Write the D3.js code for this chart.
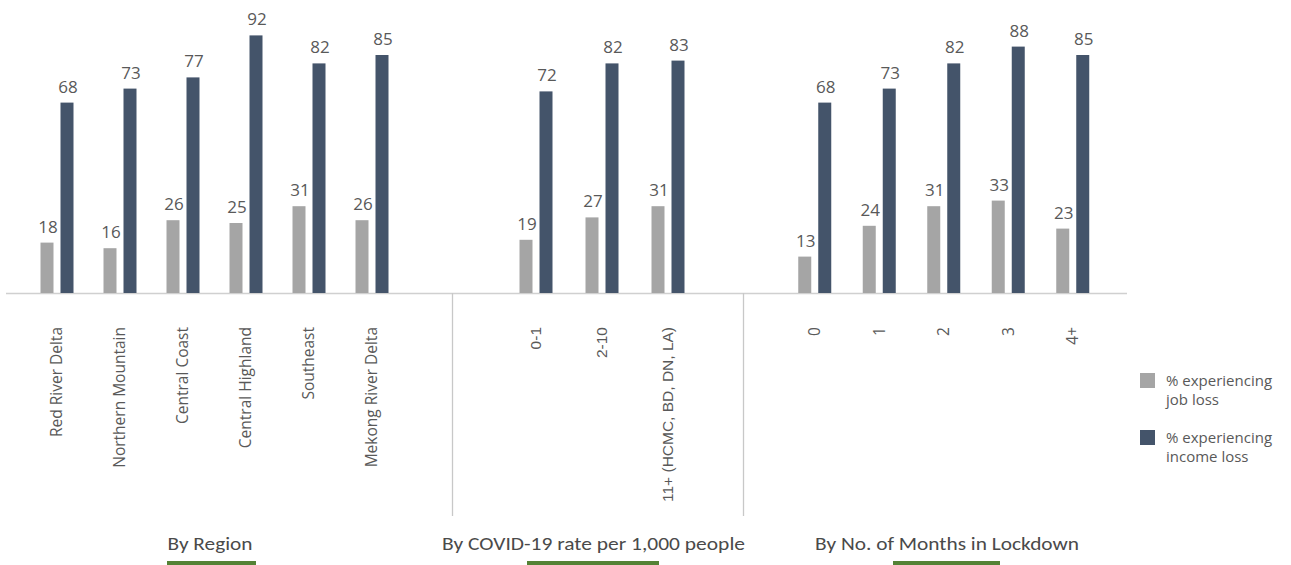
<!DOCTYPE html>
<html>
<head>
<meta charset="utf-8">
<script src="https://cdn.jsdelivr.net/npm/d3@7"></script>
<style>
  html, body { margin: 0; padding: 0; background: #ffffff; }
  svg { display: block; }
</style>
</head>
<body>
<svg id="chart" width="1291" height="565"></svg>
<script>
// ---------------- data ----------------
const groupTitles = ["By Region", "By COVID-19 rate per 1,000 people", "By No. of Months in Lockdown"];

const regionCategories = ["Red River Delta", "Northern Mountain", "Central Coast", "Central Highland", "Southeast", "Mekong River Delta"];
const regionJobLoss    = [18, 16, 26, 25, 31, 26];
const regionIncomeLoss = [68, 73, 77, 92, 82, 85];

const covidCategories  = ["0-1", "2-10", "11+ (HCMC, BD, DN, LA)"];
const covidJobLoss     = [19, 27, 31];
const covidIncomeLoss  = [72, 82, 83];

const monthCategories  = ["0", "1", "2", "3", "4+"];
const monthJobLoss     = [13, 24, 31, 33, 23];
const monthIncomeLoss  = [68, 73, 82, 88, 85];

const seriesKeys   = ["job", "income"];
const seriesLabels = [["% experiencing", "job loss"], ["% experiencing", "income loss"]];

// ---------------- layout / style ----------------
const colors = { job: "#a5a5a5", income: "#44546a" };
const textColor = "#595959";
const baseY = 293;

const groups = [
  { title: groupTitles[0], cats: regionCategories, job: regionJobLoss, income: regionIncomeLoss,
    range: [25.5, 403.5], font: "'Open Sans', sans-serif", titleX: 210, titleW: 85, ulX: [167, 256] },
  { title: groupTitles[1], cats: covidCategories, job: covidJobLoss, income: covidIncomeLoss,
    range: [503, 701], font: "'Liberation Sans', Arial, sans-serif", titleX: 593.5, titleW: 303, ulX: [527, 659] },
  { title: groupTitles[2], cats: monthCategories, job: monthJobLoss, income: monthIncomeLoss,
    range: [782.5, 1105], font: "'Open Sans', sans-serif", titleX: 947, titleW: 264, ulX: [893, 1000] }
];

const svg = d3.select("#chart");

const y = d3.scaleLinear().domain([0, 100]).range([baseY, 13]);
const xInner = d3.scaleBand().domain(seriesKeys).range([-16.5, 16.5]).paddingInner(0.35);

// baseline
svg.append("line")
  .attr("x1", 6).attr("x2", 1127)
  .attr("y1", y(0) + 0.5).attr("y2", y(0) + 0.5)
  .attr("stroke", "#d0d0d0").attr("stroke-width", 1.3);

// separators
[452, 743].forEach(sx => {
  svg.append("line")
    .attr("x1", sx + 0.5).attr("x2", sx + 0.5)
    .attr("y1", y(0)).attr("y2", 516)
    .attr("stroke", "#c8c8c8").attr("stroke-width", 1.3);
});

groups.forEach(g => {
  const x = d3.scaleBand().domain(g.cats).range(g.range);
  const rows = g.cats.map((c, i) => ({ cat: c, job: g.job[i], income: g.income[i] }));

  const cg = svg.append("g").selectAll("g").data(rows).join("g")
    .attr("transform", d => `translate(${x(d.cat) + x.bandwidth() / 2},0)`);

  cg.selectAll("rect").data(d => seriesKeys.map(k => ({ key: k, value: d[k] }))).join("rect")
    .attr("x", d => xInner(d.key))
    .attr("width", xInner.bandwidth())
    .attr("y", d => y(d.value))
    .attr("height", d => y(0) - y(d.value))
    .attr("fill", d => colors[d.key]);

  cg.selectAll("text.val").data(d => seriesKeys.map(k => ({ key: k, value: d[k] }))).join("text")
    .attr("class", "val")
    .attr("x", d => xInner(d.key) + xInner.bandwidth() / 2 + 1)
    .attr("y", d => y(d.value) - 10)
    .attr("text-anchor", "middle")
    .style("font-family", "'Open Sans', sans-serif")
    .style("font-size", "17px")
    .attr("fill", textColor)
    .text(d => d.value);

  // category axis
  const axis = d3.axisBottom(x).tickSize(0).tickPadding(0);
  const ag = svg.append("g").attr("transform", `translate(0,${baseY})`).call(axis);
  ag.select(".domain").remove();
  ag.selectAll("text")
    .attr("transform", "rotate(-90)")
    .attr("text-anchor", "end")
    .attr("x", -34)
    .attr("y", 0)
    .attr("dy", "0.35em")
    .style("font-family", g.font)
    .style("font-size", "15.5px")
    .attr("fill", textColor);

  // group title
  svg.append("text")
    .attr("x", g.titleX)
    .attr("y", 550)
    .attr("text-anchor", "middle")
    .attr("textLength", g.titleW)
    .attr("lengthAdjust", "spacingAndGlyphs")
    .style("font-family", "Carlito, 'Liberation Sans Narrow', 'Open Sans', sans-serif")
    .style("font-size", "19px")
    .attr("fill", "#4a4a4a")
    .text(g.title);

  svg.append("rect")
    .attr("x", g.ulX[0]).attr("width", g.ulX[1] - g.ulX[0])
    .attr("y", 561).attr("height", 4)
    .attr("fill", "#548235");
});

// legend
const lg = svg.append("g").attr("transform", "translate(1140,373)");
seriesKeys.forEach((k, i) => {
  const item = lg.append("g").attr("transform", `translate(0,${i * 57})`);
  item.append("rect").attr("width", 15).attr("height", 15).attr("fill", colors[k]);
  seriesLabels[i].forEach((line, j) => {
    item.append("text")
      .attr("x", 26).attr("y", 13 + j * 19)
      .style("font-family", "'Open Sans', sans-serif")
      .style("font-size", "15px")
      .attr("fill", textColor)
      .text(line);
  });
});
</script>
</body>
</html>
